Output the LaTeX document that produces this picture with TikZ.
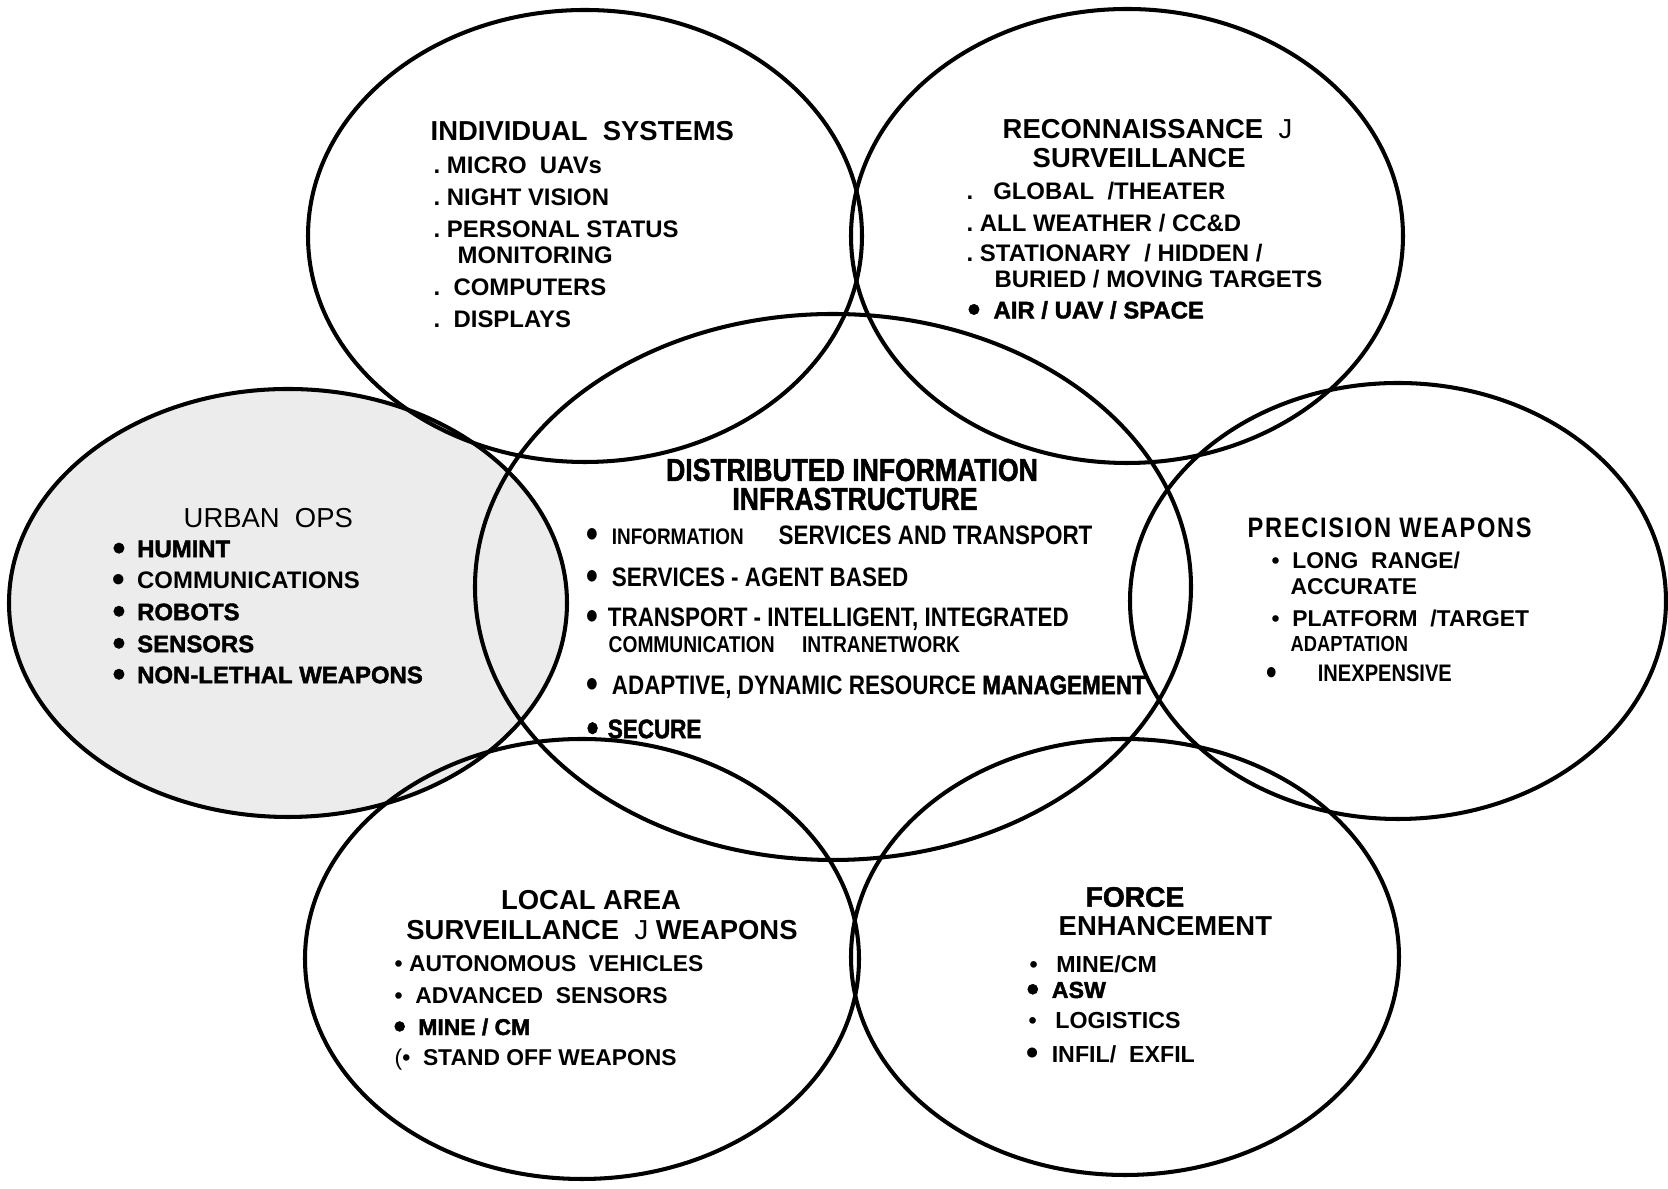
\documentclass[tikz,border=0pt]{standalone}
\usepackage{graphicx}
\usepackage{fontspec}
\setmainfont{Liberation Sans}
\newfontfamily\heavyfont[FakeBold=1.8]{Liberation Sans Bold}
\newfontfamily\narrowfont[FakeStretch=0.84]{Liberation Sans Bold}
\newfontfamily\narrowheavy[FakeStretch=0.84,FakeBold=1.6]{Liberation Sans Bold}
\newfontfamily\spacedfont[FakeStretch=0.84,LetterSpace=6]{Liberation Sans Bold}
\newcommand\blob{\smash{\raisebox{-.12em}{\scalebox{1.5}{\textbullet}}}}
\definecolor{vennInk}{RGB}{0,0,0}
\definecolor{vennPaper}{RGB}{255,255,255}
\definecolor{vennStipple}{RGB}{236,236,236}

\begin{document}
\begin{tikzpicture}[x=.01cm,y=-.01cm,
      ring/.style={draw=vennInk, line width=1.15pt},
      stipple/.style={fill=vennStipple},
      head/.style={font=\fontsize{7.8}{9}\selectfont\bfseries,
        text=vennInk, anchor=west, inner sep=0pt},
      plainhead/.style={font=\fontsize{7.8}{9}\selectfont,
        text=vennInk, anchor=west, inner sep=0pt},
      item/.style={font=\fontsize{6.8}{8}\selectfont\bfseries,
        text=vennInk, anchor=west, inner sep=0pt},
      heavy/.style={font=\fontsize{6.8}{8}\selectfont\heavyfont,
        text=vennInk, anchor=west, inner sep=0pt},
      narrow/.style={font=\fontsize{7.6}{8.6}\selectfont\narrowfont,
        text=vennInk, anchor=west, inner sep=0pt},
      narrowbold/.style={font=\fontsize{7.6}{8.6}\selectfont\narrowheavy,
        text=vennInk, anchor=west, inner sep=0pt},
      bighead/.style={font=\fontsize{9}{10}\selectfont\narrowheavy,
        text=vennInk, inner sep=0pt}]
      \useasboundingbox (0,0) rectangle (1668,1189);
      \fill[vennPaper] (0,0) rectangle (1668,1189);

      \path[stipple] (288,603) ellipse [x radius=279, y radius=214];
      \draw[ring] (585,236) ellipse [x radius=277, y radius=226];
      \draw[ring] (1127,236) ellipse [x radius=276, y radius=227];
      \draw[ring] (833,587) ellipse [x radius=358, y radius=273];
      \draw[ring] (288,603) ellipse [x radius=279, y radius=214];
      \draw[ring] (1398,601) ellipse [x radius=268, y radius=218];
      \draw[ring] (582,959) ellipse [x radius=277, y radius=220];
      \draw[ring] (1125,957) ellipse [x radius=274, y radius=218];

      \node[head] (indTitle) at (430,131) {INDIVIDUAL\ \ SYSTEMS};
      \node[item] (indMicro) at (433,165) {.\ MICRO\ \ UAVs};
      \node[item] (indNight) at (433,197) {.\ NIGHT VISION};
      \node[item] (indStatus) at (433,229) {.\ PERSONAL STATUS};
      \node[item] (indMonitor) at (457,255) {MONITORING};
      \node[item] (indComputer) at (433,287) {.\ \ COMPUTERS};
      \node[item] (indDisplay) at (433,319) {.\ \ DISPLAYS};

      \node[head] (recTitle) at (1002,129) {RECONNAISSANCE\ \ {\mdseries J}};
      \node[head] (recTitleB) at (1032,158) {SURVEILLANCE};
      \node[item] (recGlobal) at (966,191) {.\ \ \ GLOBAL\ \ /THEATER};
      \node[item] (recWeather) at (966,223) {.\ ALL WEATHER / CC\&D};
      \node[item] (recStation) at (966,253) {.\ STATIONARY\ \ / HIDDEN /};
      \node[item] (recBuried) at (994,279) {BURIED / MOVING TARGETS};
      \node[heavy] (recAir) at (967,310) {\blob\ \ AIR / UAV / SPACE};

      \node[bighead] (infTitle) at (852,470) {DISTRIBUTED INFORMATION};
      \node[bighead] (infTitleB) at (855,499) {INFRASTRUCTURE};
      \node[narrow] (infServices) at (586,535)
        {\blob\hspace{.5em}{\fontsize{6.4}{7.4}\selectfont INFORMATION}\hspace{1.3em}SERVICES AND TRANSPORT};
      \node[narrow] (infAgent) at (586,577) {\blob\hspace{.5em}SERVICES - AGENT BASED};
      \node[narrow] (infTransport) at (586,619)
        {\blob\hspace{.35em}TRANSPORT - INTELLIGENT, INTEGRATED};
      \node[narrow, font=\fontsize{6.5}{7.5}\selectfont\narrowfont] (infComm) at (608,645)
        {COMMUNICATION\hspace{1.2em}INTRANETWORK};
      \node[narrow] (infAdaptive) at (586,687)
        {\blob\hspace{.5em}ADAPTIVE, DYNAMIC RESOURCE {\narrowheavy MANAGEMENT}};
      \node[narrowbold] (infSecure) at (586,729) {\blob\hspace{.35em}SECURE};

      \node[plainhead] (urbTitle) at (183,518) {URBAN\ \ OPS};
      \node[heavy] (urbHumint) at (112,549) {\blob\hspace{.5em}HUMINT};
      \node[item] (urbComm) at (112,580) {\blob\hspace{.5em}COMMUNICATIONS};
      \node[heavy] (urbRobot) at (112,612) {\blob\hspace{.5em}ROBOTS};
      \node[heavy] (urbSensor) at (112,644) {\blob\hspace{.5em}SENSORS};
      \node[heavy] (urbWeapon) at (112,675) {\blob\hspace{.5em}NON-LETHAL WEAPONS};

      \node[font=\fontsize{8}{9}\selectfont\spacedfont, anchor=west, inner sep=0pt]
        (preTitle) at (1247,528) {PRECISION WEAPONS};
      \node[item, font=\fontsize{6.5}{7.5}\selectfont\bfseries] (preRange) at (1271,560)
        {\textbullet\ \ LONG\ \ RANGE/};
      \node[item, font=\fontsize{6.5}{7.5}\selectfont\bfseries] (preAccurate) at (1290,587) {ACCURATE};
      \node[item, font=\fontsize{6.5}{7.5}\selectfont\bfseries] (prePlatform) at (1271,618)
        {\textbullet\ \ PLATFORM\ \ /TARGET};
      \node[narrow, font=\fontsize{6.2}{7.2}\selectfont\narrowfont] (preAdapt) at (1290,644) {ADAPTATION};
      \node[narrow, font=\fontsize{6.8}{7.8}\selectfont\narrowfont] (preCheap) at (1266,673)
        {\blob\hspace{1.7em}INEXPENSIVE};

      \node[head, anchor=center] (locTitle) at (591,900) {LOCAL AREA};
      \node[head, anchor=center] (locTitleB) at (602,930) {SURVEILLANCE\ \ {\mdseries J}\ WEAPONS};
      \node[item, font=\fontsize{6.5}{7.5}\selectfont\bfseries] (locVehicle) at (394,964)
        {\textbullet\ AUTONOMOUS\ \ VEHICLES};
      \node[item, font=\fontsize{6.5}{7.5}\selectfont\bfseries] (locSensor) at (394,996)
        {\textbullet\ \ ADVANCED\ \ SENSORS};
      \node[heavy, font=\fontsize{6.5}{7.5}\selectfont\heavyfont] (locMine) at (393,1027)
        {\blob\ \ MINE / CM};
      \node[item, font=\fontsize{6.5}{7.5}\selectfont\bfseries] (locStand) at (394,1060)
        {{\mdseries(}\textbullet\ \ STAND OFF WEAPONS};

      \node[head, font=\fontsize{8}{9}\selectfont\heavyfont] (forTitle) at (1085,897) {FORCE};
      \node[head] (forTitleB) at (1058,926) {ENHANCEMENT};
      \node[item, font=\fontsize{6.6}{7.6}\selectfont\bfseries] (forMine) at (1029,964)
        {\textbullet\hspace{.8em}MINE/CM};
      \node[heavy, font=\fontsize{6.6}{7.6}\selectfont\heavyfont] (forAsw) at (1026,990)
        {\blob\ \ ASW};
      \node[item, font=\fontsize{6.6}{7.6}\selectfont\bfseries] (forLogistic) at (1028,1021)
        {\textbullet\hspace{.8em}LOGISTICS};
      \node[item, font=\fontsize{6.6}{7.6}\selectfont\bfseries] (forInfil) at (1026,1054)
        {\blob\ \ INFIL/\ \ EXFIL};
    \end{tikzpicture}
\end{document}
